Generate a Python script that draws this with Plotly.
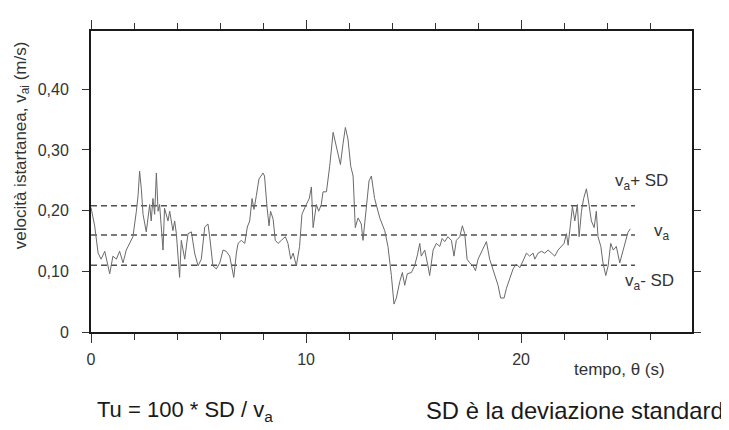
import plotly.graph_objects as go

# ---- data ----
tempo = [
    0, 0.17, 0.33, 0.47, 0.64, 0.87, 1.02, 1.18, 1.33, 1.49, 1.64, 1.8, 1.95, 2.11, 2.19, 2.26, 2.34, 2.42,
    2.57, 2.73, 2.8, 2.88, 2.96, 3.04, 3.12, 3.19, 3.35, 3.42, 3.58, 3.66, 3.81, 3.89, 3.97, 4.12, 4.2,
    4.36, 4.51, 4.67, 4.82, 4.98,
    5.13, 5.29, 5.44, 5.52, 5.67, 5.83, 5.99, 6.14, 6.29, 6.45, 6.53, 6.64, 6.76, 6.84, 6.99, 7.15, 7.27,
    7.38, 7.49, 7.58, 7.69, 7.81, 8.0, 8.07, 8.19, 8.28, 8.35, 8.47, 8.57, 8.7, 8.85, 9.04, 9.16, 9.29,
    9.4, 9.55, 9.7, 9.81, 10.01,
    10.15, 10.25, 10.33, 10.48, 10.59, 10.71, 10.79, 10.95, 11.1, 11.26, 11.41, 11.6, 11.72, 11.83, 11.95,
    12.08, 12.19, 12.29, 12.42, 12.57, 12.65, 12.81, 12.93, 13.04, 13.19, 13.43, 13.66, 13.81, 13.97,
    14.09, 14.2, 14.36, 14.48, 14.59, 14.71, 14.9, 15.05, 15.18, 15.29,
    15.36, 15.52, 15.67, 15.75, 15.91, 16.06, 16.22, 16.33, 16.45, 16.6, 16.76, 16.88, 16.99, 17.15,
    17.27, 17.38, 17.49, 17.61, 17.77, 17.88, 18.0, 18.19, 18.39, 18.54, 18.74, 18.93, 19.05, 19.21,
    19.32, 19.47, 19.63, 19.78, 19.94, 20.09, 20.25, 20.4,
    20.56, 20.64, 20.79, 20.95, 21.1, 21.26, 21.41, 21.57, 21.72, 21.88, 22.0, 22.11, 22.19, 22.3, 22.39,
    22.5, 22.62, 22.7, 22.81, 22.91, 23.04, 23.16, 23.27, 23.4, 23.5, 23.58, 23.71, 23.81, 23.94, 24.05,
    24.17, 24.29, 24.43, 24.59, 24.71, 24.85, 24.97, 25.08,
]
velocita = [
    0.205, 0.175, 0.13, 0.12, 0.133, 0.096, 0.125, 0.12, 0.133, 0.114, 0.135, 0.146, 0.157, 0.199, 0.225,
    0.265, 0.236, 0.194, 0.165, 0.21, 0.183, 0.22, 0.194, 0.262, 0.199, 0.21, 0.135, 0.204, 0.183, 0.199,
    0.167, 0.183, 0.162, 0.09, 0.151, 0.12, 0.162, 0.165, 0.13, 0.109,
    0.12, 0.173, 0.178, 0.157, 0.109, 0.104, 0.114, 0.135, 0.133, 0.125, 0.109, 0.09, 0.13, 0.146, 0.151,
    0.146, 0.173, 0.183, 0.22, 0.202, 0.225, 0.252, 0.262, 0.257, 0.204, 0.175, 0.199, 0.186, 0.151, 0.146,
    0.151, 0.157, 0.146, 0.12, 0.13, 0.109, 0.141, 0.194, 0.21,
    0.22, 0.239, 0.172, 0.21, 0.199, 0.21, 0.231, 0.231, 0.273, 0.329, 0.305, 0.276, 0.31, 0.337, 0.318,
    0.273, 0.257, 0.172, 0.188, 0.178, 0.151, 0.21, 0.249, 0.257, 0.22, 0.188, 0.167, 0.141, 0.093,
    0.046, 0.056, 0.083, 0.098, 0.077, 0.096, 0.098, 0.109, 0.127, 0.146,
    0.125, 0.135, 0.109, 0.093, 0.135, 0.146, 0.141, 0.154, 0.149, 0.157, 0.151, 0.125, 0.151, 0.157,
    0.175, 0.162, 0.12, 0.114, 0.109, 0.101, 0.12, 0.135, 0.149, 0.12, 0.098, 0.077, 0.056, 0.056,
    0.072, 0.088, 0.104, 0.112, 0.106, 0.117, 0.13, 0.125,
    0.13, 0.12, 0.13, 0.133, 0.13, 0.135, 0.13, 0.125, 0.135, 0.141, 0.146, 0.162, 0.143, 0.178, 0.207,
    0.183, 0.21, 0.157, 0.199, 0.22, 0.236, 0.21, 0.183, 0.172, 0.199, 0.157, 0.141, 0.114, 0.093, 0.109,
    0.146, 0.135, 0.141, 0.114, 0.13, 0.146, 0.164, 0.17,
]

livelli_etichette = ["v<sub>a</sub>+ SD", "v<sub>a</sub>", "v<sub>a</sub>- SD"]
livelli_valori = [0.208, 0.160, 0.110]
livelli_fine = 25.3

y_tick_vals = [0, 0.1, 0.2, 0.3, 0.4]
y_tick_text = ["0", "0,10", "0,20", "0,30", "0,40"]

FONT = "Liberation Sans, Arial, sans-serif"
TXT = "#333333"

fig = go.Figure()

for v in livelli_valori:
    fig.add_trace(go.Scatter(
        x=[0, livelli_fine], y=[v, v], mode="lines",
        line=dict(color="#505050", width=1.5, dash="6px,4px"),
        hoverinfo="skip", showlegend=False,
    ))

fig.add_trace(go.Scatter(
    x=tempo, y=velocita, mode="lines",
    line=dict(color="#6a6a6a", width=1),
    showlegend=False,
))

# labels of the dashed levels
label_pos = [(24.28, 0.247), (26.1, 0.164), (24.75, 0.082)]
for txt, (lx, ly) in zip(livelli_etichette, label_pos):
    fig.add_annotation(x=lx, y=ly, xref="x", yref="y", text=txt, showarrow=False,
                       xanchor="left", yanchor="middle",
                       font=dict(family=FONT, size=17, color=TXT))

fig.update_xaxes(
    range=[0, 27.95], showgrid=False, zeroline=False,
    showline=True, linecolor="#1a1a1a", linewidth=2, mirror="allticks",
    ticks="outside", ticklen=9, tickwidth=1.4, tickcolor="#333333",
    tickmode="linear", tick0=0, dtick=10,
    ticklabelstandoff=3,
    tickfont=dict(family=FONT, size=16, color=TXT),
    minor=dict(ticks="outside", tick0=0, dtick=2, ticklen=6, tickwidth=1.2,
               tickcolor="#333333", showgrid=False),
)
fig.update_yaxes(
    range=[0, 0.496], showgrid=False, zeroline=False,
    showline=True, linecolor="#1a1a1a", linewidth=2, mirror="allticks",
    ticks="outside", ticklen=7, tickwidth=1.4, tickcolor="#333333",
    tickvals=y_tick_vals, ticktext=y_tick_text,
    ticklabelstandoff=10,
    tickfont=dict(family=FONT, size=16, color=TXT),
)

# axis titles
fig.add_annotation(x=-0.115, y=0.62, xref="paper", yref="paper",
                   text="velocità istartanea, v<sub>ai</sub> (m/s)", textangle=-90,
                   showarrow=False, xanchor="center", yanchor="middle",
                   font=dict(family=FONT, size=17, color=TXT))
fig.add_annotation(x=0.879, y=-0.123, xref="paper", yref="paper",
                   text="tempo, θ (s)", showarrow=False, xanchor="center", yanchor="middle",
                   font=dict(family=FONT, size=17, color=TXT))

# notes below the chart
fig.add_annotation(x=0.0067, y=-0.262, xref="paper", yref="paper",
                   text="Tu = 100 * SD / v<sub>a</sub>", showarrow=False,
                   xanchor="left", yanchor="middle",
                   font=dict(family=FONT, size=22, color="#1a1a1a"))
fig.add_annotation(x=0.806, y=-0.262, xref="paper", yref="paper",
                   text="SD è la deviazione standard", showarrow=False,
                   xanchor="center", yanchor="middle",
                   font=dict(family=FONT, size=23.8, color="#1a1a1a"))

# the page body adds an 8 px offset: margins and size are reduced to compensate
fig.update_layout(
    width=721, height=422,
    margin=dict(l=83, r=37, t=15, b=98),
    paper_bgcolor="white", plot_bgcolor="white",
    font=dict(family=FONT, color=TXT),
)

fig.write_html("out.html")
